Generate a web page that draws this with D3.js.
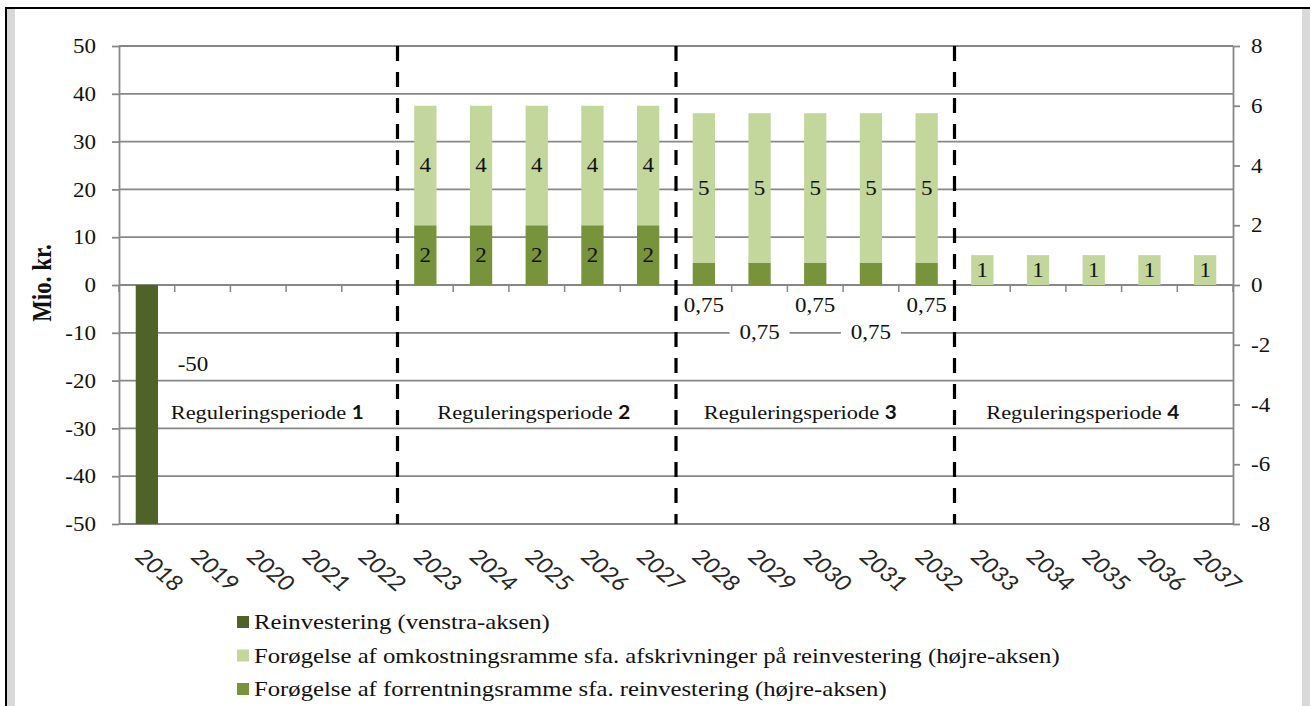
<!DOCTYPE html>
<html>
<head>
<meta charset="utf-8">
<script src="https://cdn.jsdelivr.net/npm/d3@7"></script>
<style>
  html, body { margin: 0; padding: 0; background: #fff; overflow: hidden; }
</style>
</head>
<body>
<svg id="chart" width="1310" height="706"></svg>
<script>
// ---- data ----
const years = ["2018", "2019", "2020", "2021", "2022", "2023", "2024", "2025", "2026", "2027",
               "2028", "2029", "2030", "2031", "2032", "2033", "2034", "2035", "2036", "2037"];
// Reinvestering, left axis (mio. kr.)
const reinvestering = [-50, null, null, null, null, null, null, null, null, null,
                       null, null, null, null, null, null, null, null, null, null];
// Forøgelse af forrentningsramme, right axis
const forrentning = [0, 0, 0, 0, 0, 2, 2, 2, 2, 2, 0.75, 0.75, 0.75, 0.75, 0.75, 0, 0, 0, 0, 0];
// Forøgelse af omkostningsramme, right axis
const omkostning = [0, 0, 0, 0, 0, 4, 4, 4, 4, 4, 5, 5, 5, 5, 5, 1, 1, 1, 1, 1];

const leftTicks = [-50, -40, -30, -20, -10, 0, 10, 20, 30, 40, 50];
const rightTicks = [-8, -6, -4, -2, 0, 2, 4, 6, 8];

const periodStarts = ["2018", "2023", "2028", "2033"];
const periodEnds = ["2022", "2027", "2032", "2037"];
const periodWord = "Reguleringsperiode";
const periodNumbers = ["1", "2", "3", "4"];

const axisTitle = "Mio. kr.";
const legendLabels = [
  "Reinvestering (venstra-aksen)",
  "Forøgelse af omkostningsramme sfa. afskrivninger på reinvestering (højre-aksen)",
  "Forøgelse af forrentningsramme sfa. reinvestering (højre-aksen)"
];

// ---- layout & style ----
const SX = 1.15;                       // horizontal stretch applied to lettering
const plot = { left: 119, right: 1233, top: 46, bottom: 524 };
const serif = "'Liberation Serif', 'Times New Roman', serif";
const sans = "Lato, 'Open Sans', sans-serif";
const colReinv = "#4F6228", colForr = "#77933C", colOmk = "#C3D69B";
const gridCol = "#878787";
const textCol = "#111";

const locale = d3.formatLocale({ decimal: ",", thousands: ".", grouping: [3], currency: ["", " kr."] });
const fmt = v => locale.format("~r")(v).replace("\u2212", "-");

const svg = d3.select("#chart");

// frame
svg.append("rect").attr("x", 7).attr("y", 9).attr("width", 8).attr("height", 697).attr("fill", "#d9d9d9");
svg.append("rect").attr("x", 1302).attr("y", 9).attr("width", 8).attr("height", 697).attr("fill", "#d9d9d9");
svg.append("rect").attr("x", 5).attr("y", 7).attr("width", 1305).attr("height", 2).attr("fill", "#000");
svg.append("rect").attr("x", 5).attr("y", 7).attr("width", 2).attr("height", 699).attr("fill", "#000");

// scales
const x = d3.scaleBand().domain(years).range([plot.left, plot.right]).paddingInner(0.6).paddingOuter(0.3);
const yL = d3.scaleLinear().domain([-50, 50]).range([plot.bottom, plot.top]);
const yR = d3.scaleLinear().domain([-8, 8]).range([plot.bottom, plot.top]);
const gap = (x.step() - x.bandwidth()) / 2;
const boundary = y => x(y) - gap;

// gridlines
svg.append("g").selectAll("line").data(leftTicks).join("line")
  .attr("x1", plot.left).attr("x2", plot.right)
  .attr("y1", d => yL(d)).attr("y2", d => yL(d))
  .attr("stroke", gridCol).attr("stroke-width", 1.8);

// category ticks on the zero line
const catBounds = years.map(boundary).concat([plot.right]);
svg.append("g").selectAll("line").data(catBounds).join("line")
  .attr("x1", d => d).attr("x2", d => d)
  .attr("y1", yL(0)).attr("y2", yL(0) + 7)
  .attr("stroke", gridCol).attr("stroke-width", 1.5);

// left axis
const gL = svg.append("g").attr("transform", `translate(${plot.left},0)`)
  .call(d3.axisLeft(yL).tickValues(leftTicks).tickSizeInner(7).tickSizeOuter(0).tickFormat(d => String(d)));
gL.select(".domain").attr("stroke", gridCol).attr("stroke-width", 1.8);
gL.selectAll(".tick line").attr("stroke", gridCol).attr("stroke-width", 1.8);
gL.selectAll(".tick text")
  .attr("x", -23 / SX).attr("dy", "0.33em").attr("transform", `scale(${SX},1)`)
  .attr("font-family", serif).attr("font-size", 20).attr("fill", textCol);

// right axis
const gR = svg.append("g").attr("transform", `translate(${plot.right},0)`)
  .call(d3.axisRight(yR).tickValues(rightTicks).tickSizeInner(7).tickSizeOuter(0).tickFormat(d => String(d)));
gR.select(".domain").attr("stroke", gridCol).attr("stroke-width", 1.8);
gR.selectAll(".tick line").attr("stroke", gridCol).attr("stroke-width", 1.8);
gR.selectAll(".tick text")
  .attr("x", 18 / SX).attr("dy", "0.33em").attr("transform", `scale(${SX},1)`)
  .attr("font-family", serif).attr("font-size", 20).attr("fill", textCol);

// reinvestment bars (left axis)
const reinvRows = years.map((y, i) => ({ year: y, v: reinvestering[i] })).filter(d => d.v != null);
svg.append("g").selectAll("rect").data(reinvRows).join("rect")
  .attr("x", d => x(d.year)).attr("width", x.bandwidth())
  .attr("y", d => yL(Math.max(0, d.v))).attr("height", d => Math.abs(yL(d.v) - yL(0)))
  .attr("fill", colReinv);

// stacked bars (right axis)
const table = years.map((y, i) => ({ year: y, forrentning: forrentning[i], omkostning: omkostning[i] }));
const stacked = d3.stack().keys(["forrentning", "omkostning"])(table);
const stackCols = { forrentning: colForr, omkostning: colOmk };
const segs = [];
stacked.forEach(s => s.forEach(p => {
  const v = p.data[s.key];
  if (v) segs.push({ key: s.key, year: p.data.year, y0: p[0], y1: p[1], v });
}));
svg.append("g").selectAll("rect").data(segs).join("rect")
  .attr("x", d => x(d.year)).attr("width", x.bandwidth())
  .attr("y", d => yR(d.y1)).attr("height", d => yR(d.y0) - yR(d.y1))
  .attr("fill", d => stackCols[d.key]);

function label(g, px, py, txt, size, anchor) {
  return g.append("text")
    .attr("transform", `translate(${px},${py}) scale(${SX},1)`)
    .attr("text-anchor", anchor || "middle")
    .attr("font-family", serif).attr("font-size", size || 20).attr("fill", textCol)
    .text(txt);
}

// value labels
const gLab = svg.append("g");
segs.filter(d => d.v >= 1).forEach(d => {
  label(gLab, x(d.year) + x.bandwidth() / 2, (yR(d.y0) + yR(d.y1)) / 2, fmt(d.v)).attr("dy", "0.33em");
});
// small values are set below the axis, alternating rows
segs.filter(d => d.v < 1).forEach((d, i) => {
  const cx = x(d.year) + x.bandwidth() / 2;
  const row = i % 2;
  const cy = row ? yL(-10) : yL(0) + 20;
  if (row) {
    gLab.append("rect").attr("x", cx - 30).attr("y", cy - 10).attr("width", 60).attr("height", 20).attr("fill", "#fff");
  }
  label(gLab, cx, cy, fmt(d.v)).attr("dy", "0.33em");
});
reinvRows.forEach(d => {
  label(gLab, x(d.year) + x.bandwidth() + 35, yL(-18), fmt(d.v));
});

// period separators
svg.append("g").selectAll("line").data(periodStarts.slice(1)).join("line")
  .attr("x1", d => boundary(d)).attr("x2", d => boundary(d))
  .attr("y1", plot.top).attr("y2", plot.bottom)
  .attr("stroke", "#000").attr("stroke-width", 3.2).attr("stroke-dasharray", "15,11");

// period names
const periodShift = [9, -3, -15, -11];
periodStarts.forEach((s, i) => {
  const cx = (boundary(s) + boundary(periodEnds[i]) + x.step()) / 2 + periodShift[i];
  const t = label(svg, cx, 419, null, 19.5);
  t.append("tspan").text(periodWord + " ");
  t.append("tspan").attr("font-family", sans).attr("font-weight", 700).attr("font-size", 18).text(periodNumbers[i]);
});

// category labels
svg.append("g").selectAll("text").data(years).join("text")
  .attr("transform", d => `translate(${x(d) + x.bandwidth() / 2 - 13},558) scale(${SX},1) rotate(45)`)
  .attr("font-family", sans).attr("font-size", 21).attr("fill", "#262626")
  .text(d => d);

// axis title
svg.append("text")
  .attr("transform", `translate(51,283) scale(${SX},1) rotate(-90)`)
  .attr("text-anchor", "middle")
  .attr("font-family", serif).attr("font-weight", 700).attr("font-size", 23).attr("fill", textCol)
  .text(axisTitle);

// legend
const legendCols = [colReinv, colOmk, colForr];
const gLeg = svg.append("g");
legendLabels.forEach((name, i) => {
  const cy = 622 + i * 33.5;
  gLeg.append("rect").attr("x", 237).attr("y", cy - 6).attr("width", 12).attr("height", 12).attr("fill", legendCols[i]);
  label(gLeg, 254, cy, name, 21.5, "start").attr("dy", "0.33em");
});
</script>
</body>
</html>
